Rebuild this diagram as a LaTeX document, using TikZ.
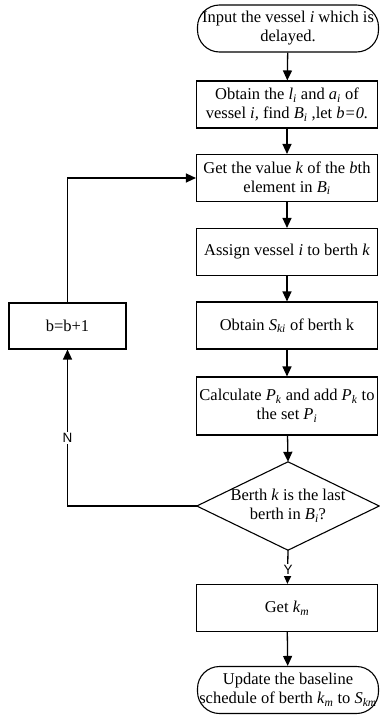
\documentclass[tikz,border=0pt]{standalone}
\usepackage{fontspec}
\setmainfont{Liberation Serif}
\newfontfamily\labfont{Liberation Sans}
\usetikzlibrary{arrows.meta}
\newcommand{\vi}[1]{\textit{#1}}
\newcommand{\vs}[2]{\textit{#1}\textsubscript{\textit{#2}}}
\begin{document}
\begin{tikzpicture}[x=1pt,y=-1pt,
  font=\fontsize{16.5}{19}\selectfont,
  box/.style={draw, line width=1.1pt, minimum width=181pt, minimum height=47pt, inner sep=0pt, align=center},
  term/.style={box, rounded corners=22pt},
  dec/.style={minimum width=182pt, minimum height=88pt, inner sep=0pt, align=center},
  arr/.style={line width=1.3pt, -{Triangle[length=10pt,width=9pt]}},
  lbl/.style={font=\labfont\fontsize{13.5}{15}\selectfont, fill=white, inner sep=1pt}]
\useasboundingbox (0,0) rectangle (380,715);
\node[term] (start) at (288,28.5) {Input the vessel \vi{i} which is\\delayed.};
\node[box] (b2) at (287,104.5) {Obtain the \vs{l}{i} and \vs{a}{i} of\\vessel \vi{i,} find \vs{B}{i} ,let \vi{b=0.}};
\node[box] (b3) at (287,178) {Get the value \vi{k} of the \vi{b}th\\element in \vs{B}{i}};
\node[box] (b4) at (287,252) {Assign vessel \vi{i} to berth \vi{k}};
\node[box] (b5) at (287,325.5) {Obtain \vs{S}{ki} of berth k};
\node[box, minimum height=58pt] (b6) at (287,406) {Calculate \vs{P}{k} and add \vs{P}{k} to\\the set \vs{P}{i}};
\node[dec] (d) at (288,506) {Berth \vi{k} is the last\\berth in \vs{B}{i}?};
\draw[line width=1.1pt] (d.north) -- (d.east) -- (d.south) -- (d.west) -- cycle;
\node[box] (b7) at (287,608) {Get \vs{k}{m}};
\node[term] (end) at (288,690) {Update the baseline\\schedule of berth \vs{k}{m} to \vs{S}{km}};
\node[draw, line width=1.1pt, minimum width=117pt, minimum height=46pt, inner sep=1pt] (inc) at (67.5,326) {b=b+1};
\draw[arr] (start) -- (b2);
\draw[arr] (b2) -- (b3);
\draw[arr] (b3) -- (b4);
\draw[arr] (b4) -- (b5);
\draw[arr] (b5) -- (b6);
\draw[arr] (b6) -- (d.north);
\draw[arr] (d.south) -- (b7);
\draw[arr] (b7) -- (end);
\draw[arr] (d.west) -| (inc.south);
\draw[arr] (inc.north) |- (b3.west);
\node[lbl] (N) at (67.5,438) {N};
\node[lbl] (Y) at (288,570) {Y};
\end{tikzpicture}
\end{document}
